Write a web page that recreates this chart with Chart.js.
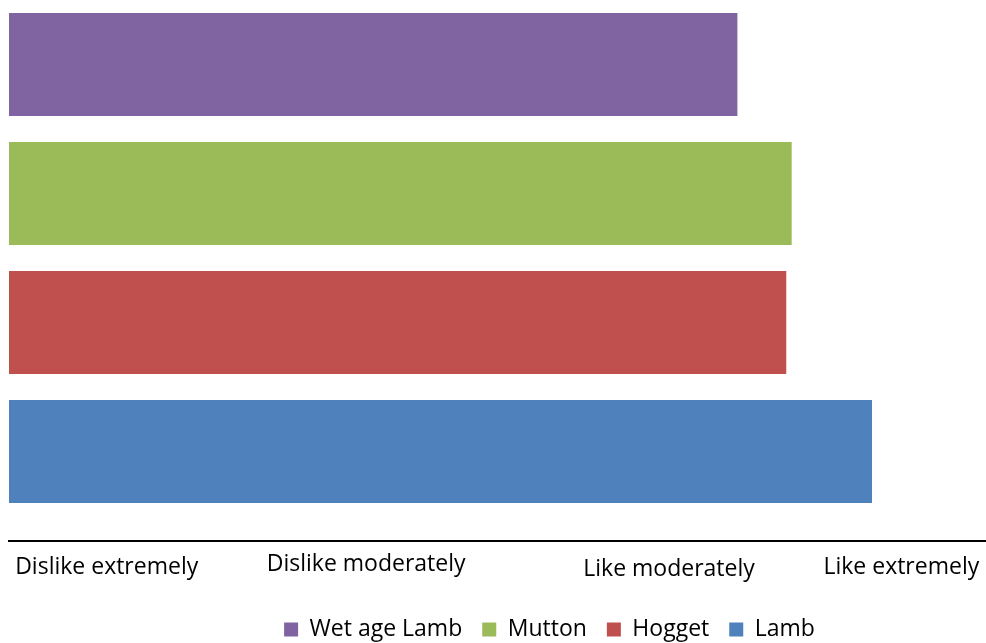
<!DOCTYPE html>
<html>
<head>
<meta charset="utf-8">
<script src="https://cdn.jsdelivr.net/npm/chart.js@4/dist/chart.umd.min.js"></script>
<style>
html,body{margin:0;padding:0;background:#fff;}
#wrap{width:986px;height:643px;position:relative;}
</style>
</head>
<body>
<div id="wrap"><canvas id="c"></canvas></div>
<script>
// Data
const categories = ["Liking"];
const seriesNames = ["Wet age Lamb", "Mutton", "Hogget", "Lamb"];
const wetAgeLamb = [6.71];
const mutton = [7.21];
const hogget = [7.16];
const lamb = [7.95];
const tickValues = [0.9, 3.29, 6.08, 8.22];
const tickLabels = ["Dislike extremely", "Dislike moderately", "Like moderately", "Like extremely"];
const colors = ["#8064A2", "#9BBB59", "#C0504D", "#4F81BD"];

const seriesValues = [wetAgeLamb, mutton, hogget, lamb];
const FONT = "'Open Sans', Lato, sans-serif";

// label boxes in the original sit at slightly different heights
const labelLineHeights = [1.2, 0.88, 1.37, 1.2];

const legendShift = {
  id: 'legendShift',
  afterLayout(chart) {
    if (chart.legend) { chart.legend.left += 104; }
  }
};

new Chart(document.getElementById('c'), {
  type: 'bar',
  data: {
    labels: categories,
    datasets: seriesNames.map((n, i) => ({
      label: n,
      data: seriesValues[i],
      backgroundColor: colors[i],
      borderWidth: 0,
      xAxisID: 'x',
      yAxisID: 'y',
      barPercentage: 0.8,
      categoryPercentage: 1.0
    }))
  },
  plugins: [legendShift],
  options: {
    indexAxis: 'y',
    responsive: true,
    maintainAspectRatio: false,
    animation: false,
    layout: { padding: { top: 0, left: 9, right: 0, bottom: 0 } },
    plugins: {
      tooltip: { enabled: false },
      legend: {
        position: 'bottom',
        maxHeight: 45,
        labels: {
          font: { family: FONT, size: 23 },
          color: '#000',
          boxWidth: 14,
          boxHeight: 14,
          padding: 20
        }
      }
    },
    scales: {
      xGap: {
        axis: 'x',
        type: 'linear',
        position: 'bottom',
        weight: 0,
        min: 0,
        max: 1,
        afterFit: (scale) => { scale.height = 25; scale.paddingLeft = 0; scale.paddingRight = 0; },
        ticks: { display: false },
        grid: { display: false, drawTicks: false },
        border: { display: false }
      },
      x: {
        type: 'linear',
        position: 'bottom',
        weight: 1,
        min: 0,
        max: 9,
        afterBuildTicks: (scale) => {
          scale.ticks = tickValues.map(v => ({ value: v }));
        },
        afterFit: (scale) => { scale.height = 57; scale.paddingLeft = 0; scale.paddingRight = 0; },
        ticks: {
          autoSkip: false,
          maxRotation: 0,
          padding: 13,
          color: '#000',
          font: (ctx) => ({ family: FONT, size: 23, lineHeight: labelLineHeights[ctx.index] || 1.2 }),
          callback: (value, index) => tickLabels[index]
        },
        grid: { display: false, drawTicks: false },
        border: { display: true, color: '#000', width: 2 }
      },
      y: {
        display: false,
        grid: { display: false }
      }
    }
  }
});
</script>
</body>
</html>
